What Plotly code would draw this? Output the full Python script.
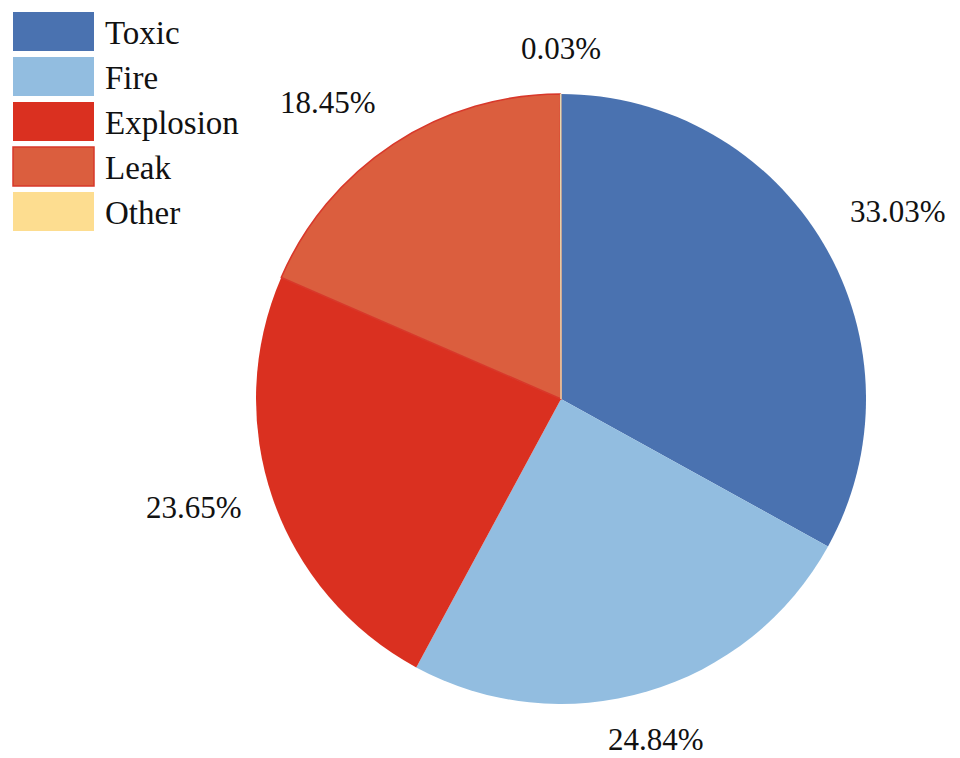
import math
import plotly.graph_objects as go

# Share of accidents by type (%)
categories = ["Toxic", "Fire", "Explosion", "Leak", "Other"]
shares = [33.03, 24.84, 23.65, 18.45, 0.03]

colors = ["#4A72B0", "#92BDE0", "#DA3020", "#DB5E3E", "#FDDD90"]
edge_colors = ["#4A72B0", "#92BDE0", "#DA3020", "#D8382A", "#E8D8B0"]
edge_widths = [0, 0, 0, 1.6, 1.0]

W, H = 960, 758
CX, CY, R = 561, 399, 305  # pie centre and radius in pixels

# outside label placement: radial distance (px) and small angular nudge (deg)
label_dist = [386, 354, 383, 377, 351]
label_nudge = [1.5, 0.8, 2.6, -4.8, 0.05]

FONT = "Times New Roman, Tinos, Liberation Serif, DejaVu Serif, serif"

fig = go.Figure()
fig.add_trace(go.Pie(
    labels=categories,
    values=shares,
    sort=False,
    direction="clockwise",
    rotation=0,
    marker=dict(colors=colors, line=dict(color=edge_colors, width=edge_widths)),
    textinfo="none",
    hoverinfo="label+percent",
    showlegend=False,
    domain=dict(x=[(CX - R) / W, (CX + R) / W],
                y=[1 - (CY + R) / H, 1 - (CY - R) / H]),
))

total = sum(shares)
annotations = []
start = 0.0
for i, v in enumerate(shares):
    span = 360.0 * v / total
    mid = math.radians(start + span / 2 + label_nudge[i])
    start += span
    px = CX + label_dist[i] * math.sin(mid)
    py = CY - label_dist[i] * math.cos(mid)
    annotations.append(dict(
        x=px / W, y=1 - py / H, xref="paper", yref="paper",
        text=f"{v:.2f}%", showarrow=False,
        xanchor="center", yanchor="middle",
        font=dict(family=FONT, size=31, color="#111111"),
    ))

# legend: large colour boxes with labels at top-left
shapes = []
box_x0, box_x1 = 13, 94
row_top, row_h, box_h = 12, 45, 39
for i, (name, c) in enumerate(zip(categories, colors)):
    y0 = row_top + i * row_h
    shapes.append(dict(
        type="rect", xref="paper", yref="paper",
        x0=box_x0 / W, x1=box_x1 / W,
        y0=1 - (y0 + box_h) / H, y1=1 - y0 / H,
        fillcolor=c, line=dict(color=edge_colors[i] if i == 3 else c, width=1.5 if i == 3 else 0),
        layer="above",
    ))
    annotations.append(dict(
        x=103 / W, y=1 - (y0 + box_h / 2 + 1) / H, xref="paper", yref="paper",
        text=name, showarrow=False, xanchor="left", yanchor="middle",
        font=dict(family=FONT, size=33, color="#111111"),
    ))

fig.update_layout(
    width=W, height=H,
    margin=dict(l=0, r=0, t=0, b=0),
    paper_bgcolor="white", plot_bgcolor="white",
    font=dict(family=FONT),
    annotations=annotations, shapes=shapes,
)

fig.write_html("out.html")
